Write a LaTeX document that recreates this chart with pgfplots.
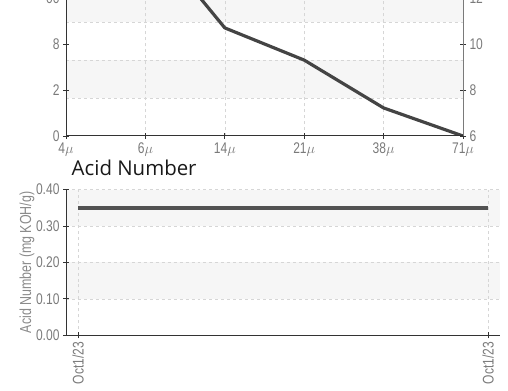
\documentclass[border=0pt]{standalone}
\usepackage{fontspec}
\setmainfont{Liberation Sans}[FakeStretch=0.78]
\newfontfamily\titlefont{Open Sans}
\usepackage{pgfplots}
\pgfplotsset{compat=1.18}
\definecolor{tickgray}{HTML}{7A7A7A}
\definecolor{labgray}{HTML}{8A8A8A}
\definecolor{band}{HTML}{F6F6F6}
\definecolor{gridc}{HTML}{D6D6D6}
\definecolor{linec}{HTML}{444444}
\definecolor{axc}{HTML}{333333}
\tikzset{gl/.style={gridc, dashed, line width=0.6pt}}
\pgfplotsset{
  base/.style={
    scale only axis,
    anchor=south west,
    axis on top,
    /pgf/number format/assume math mode=true,
    tick label style={font=\fontsize{15.5}{15.5}\selectfont, text=tickgray},
    tick align=center,
    major tick length=6bp,
    tick style={axc, line width=0.8pt},
    axis line style={axc, line width=1pt},
  },
}
\begin{document}
\begin{tikzpicture}
\begin{scope}
\clip (0,0) rectangle (508bp,391bp);
% ---------- top chart (left axis) ----------
\begin{axis}[base,
  at={(66bp,255bp)}, width=397bp, height=230bp,
  xmin=0, xmax=5, ymin=6, ymax=16,
  axis x line*=bottom, axis y line*=left,
  xtick={0,1,2,3,4,5},
  xticklabels={4$\mu$,6$\mu$,14$\mu$,21$\mu$,38$\mu$,71$\mu$},
  ytick={6,8,10,12}, yticklabels={0,2,8,00},
]
\fill[band] (axis cs:0,7.652) rectangle (axis cs:5,9.304);
\fill[band] (axis cs:0,10.957) rectangle (axis cs:5,12.609);
\fill[band] (axis cs:0,14.261) rectangle (axis cs:5,15.913);
\draw[gl] (axis cs:0,7.652) -- (axis cs:5,7.652);
\draw[gl] (axis cs:0,9.304) -- (axis cs:5,9.304);
\draw[gl] (axis cs:0,10.957) -- (axis cs:5,10.957);
\draw[gl] (axis cs:0,12.609) -- (axis cs:5,12.609);
\draw[gl] (axis cs:1,6) -- (axis cs:1,16);
\draw[gl] (axis cs:2,6) -- (axis cs:2,16);
\draw[gl] (axis cs:3,6) -- (axis cs:3,16);
\draw[gl] (axis cs:4,6) -- (axis cs:4,16);
\addplot[linec, line width=3.2pt, line join=round] coordinates {
 (0,17) (1,14.9) (2,10.70) (3,9.30) (4,7.22) (5,6)
};
\end{axis}
% ---------- top chart (right axis) ----------
\begin{axis}[base,
  at={(66bp,255bp)}, width=397bp, height=230bp,
  xmin=0, xmax=5, ymin=6, ymax=16,
  axis x line=none, axis y line*=right,
  axis line style={tickgray, line width=1pt},
  ytick={6,8,10,12},
]
\addplot[draw=none] coordinates {(0,6) (5,16)};
\end{axis}
% ---------- title ----------
\node[anchor=base west, inner sep=0pt, font=\titlefont\fontsize{20.5}{21}\selectfont, text=black!90] at (71.5bp,215.5bp) {Acid Number};
% ---------- bottom chart ----------
\begin{axis}[base,
  at={(66bp,55.7bp)}, width=434bp, height=145.8bp,
  xmin=-0.0293, xmax=1.0293, ymin=0, ymax=0.4,
  axis x line*=bottom, axis y line*=left,
  xtick={0,1}, xticklabels={Oct1/23,Oct1/23},
  xticklabel style={rotate=90, anchor=east},
  ytick={0,0.1,0.2,0.3,0.4},
  yticklabel style={/pgf/number format/.cd, fixed, fixed zerofill, precision=2},
  ylabel={Acid Number (mg KOH/g)},
  every axis y label/.style={at={(rel axis cs:0,0.5)}, rotate=90, anchor=center, yshift=39bp,
     font=\fontsize{16}{16}\selectfont, text=labgray},
]
\fill[band] (axis cs:-0.0293,0.1) rectangle (axis cs:1.0293,0.2);
\fill[band] (axis cs:-0.0293,0.3) rectangle (axis cs:1.0293,0.4);
\draw[gl] (axis cs:-0.0293,0.1) -- (axis cs:1.0293,0.1);
\draw[gl] (axis cs:-0.0293,0.2) -- (axis cs:1.0293,0.2);
\draw[gl] (axis cs:-0.0293,0.3) -- (axis cs:1.0293,0.3);
\draw[gl] (axis cs:-0.0293,0.4) -- (axis cs:1.0293,0.4);
\draw[gl] (axis cs:0,0) -- (axis cs:0,0.4);
\draw[gl] (axis cs:1,0) -- (axis cs:1,0.4);
\addplot[black!68, line width=4.2pt] coordinates {(0,0.35) (1,0.35)};
\end{axis}
\end{scope}
\pgfresetboundingbox
\path[use as bounding box] (0,0) rectangle (508bp,391bp);
\end{tikzpicture}
\end{document}
